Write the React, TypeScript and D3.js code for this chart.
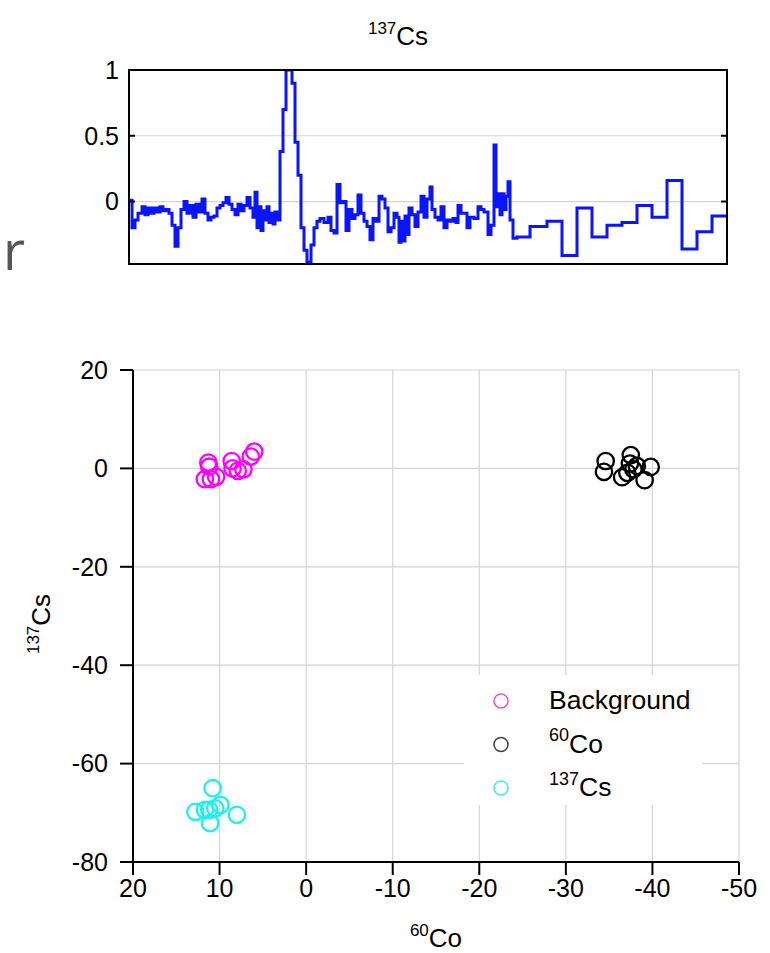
import React from "react";
import * as d3 from "d3";

// ---- Top panel: 137Cs spectrum (step histogram), bin start channel + value ----
const spectrumStart = [
  0, 3, 6, 9, 13, 16, 19, 22, 25, 28, 31, 34, 37, 40, 43, 46, 49, 52, 55, 58,
  61, 64, 67, 70, 73, 76, 79, 82, 85, 88, 91, 94, 97, 100, 103, 106, 109, 112, 115, 118,
  121, 124, 126, 128, 130, 132, 134, 136, 138, 140, 142, 144, 146, 148, 151, 154, 157, 160, 163, 166,
  169, 172, 175, 178, 182, 185, 188, 191, 195, 199, 202, 205, 208, 211, 214, 217, 220, 223, 226, 229,
  232, 235, 238, 241, 244, 247, 250, 253, 256, 259, 262, 265, 268, 270, 272, 274, 276, 278, 280, 283,
  286, 289, 292, 295, 298, 301, 303, 306, 309, 312, 315, 318, 321, 324, 327, 329, 332, 335, 338, 341,
  345, 349, 352, 355, 359, 362, 365, 367, 369, 371, 373, 375, 377, 379, 381, 384, 388, 401, 418, 433,
  448, 463, 478, 493, 508, 523, 538, 553, 568, 583,
];
const spectrumValue = [
  0.01, -0.2, -0.14, -0.09, -0.04, -0.1, -0.05, -0.09, -0.05, -0.08, -0.04, -0.07, -0.06, -0.09, -0.18, -0.34, -0.2, -0.06, 0.0, -0.09,
  -0.03, -0.12, -0.02, -0.08, 0.02, -0.09, -0.14, -0.12, -0.11, -0.05, -0.03, -0.01, 0.03, -0.02, -0.06, -0.1, -0.02, -0.07, -0.03, 0.03,
  -0.05, -0.12, 0.07, -0.2, -0.04, -0.22, -0.07, -0.14, -0.04, -0.16, -0.09, -0.17, -0.08, -0.14, 0.38, 0.7, 1.0, 1.0, 0.9, 0.45,
  0.2, -0.2, -0.37, -0.46, -0.33, -0.2, -0.15, -0.13, -0.16, -0.12, -0.22, -0.24, 0.13, -0.01, 0.0, -0.22, -0.06, -0.13, -0.1, 0.05,
  -0.09, -0.15, -0.19, -0.29, -0.13, -0.15, 0.04, 0.02, -0.05, -0.23, -0.2, -0.09, -0.12, -0.31, -0.15, -0.3, -0.11, -0.25, -0.05, -0.1,
  -0.19, -0.08, 0.04, -0.12, 0.02, 0.11, -0.06, -0.12, -0.14, -0.04, -0.2, -0.14, -0.15, -0.13, -0.16, -0.03, -0.09, -0.09, -0.2, -0.12,
  -0.13, -0.04, -0.06, -0.08, -0.25, -0.18, 0.43, -0.04, 0.06, -0.1, 0.06, -0.06, 0.04, 0.15, -0.14, -0.28, -0.27, -0.19, -0.15, -0.41,
  -0.05, -0.27, -0.18, -0.16, -0.03, -0.12, 0.16, -0.36, -0.23, -0.11,
];
const spectrumEnd = 598;
const spectrumTicks = [0, 0.5, 1];
const spectrumTickLabels = ["0", "0.5", "1"];

// ---- Bottom panel: scatter (60Co vs 137Cs) ----
const backgroundCo = [11.3, 11.2, 11.7, 11.0, 10.4, 8.6, 8.5, 7.9, 7.25, 6.4, 6.0];
const backgroundCs = [1.2, 0.35, -2.2, -2.2, -1.7, 1.5, 0.0, -0.5, -0.2, 2.4, 3.4];
const cobaltCo = [-34.6, -34.4, -36.5, -37.5, -37.4, -37.8, -37.1, -38.2, -39.8, -39.1];
const cobaltCs = [1.5, -0.7, -1.8, 2.7, 1.0, -0.2, -0.9, 0.5, 0.3, -2.4];
const cesiumCo = [10.8, 12.8, 11.7, 11.1, 10.5, 9.9, 8.0, 11.2];
const cesiumCs = [-65.0, -69.8, -69.4, -72.1, -69.1, -68.4, -70.4, -69.4];

const xTicks = [20, 10, 0, -10, -20, -30, -40, -50];
const yTicks = [20, 0, -20, -40, -60, -80];

const seriesNames = ["Background", "60Co", "137Cs"];
const seriesColors = ["#ff00ff", "#000000", "#22eeee"];
const legendColors = ["#e455d8", "#444444", "#44eedd"];

const FONT = "'Liberation Sans', Arial, Helvetica, sans-serif";

function Iso({ mass, sym, size, sup }: { mass: string; sym: string; size: number; sup: number }) {
  return (
    <>
      <tspan fontSize={sup} dy={-size * 0.42}>{mass}</tspan>
      <tspan fontSize={size} dy={size * 0.42}>{sym}</tspan>
    </>
  );
}

export default function App() {
  // top panel geometry
  const tL = 129, tR = 727, tT = 70, tB = 264;
  const sx = d3.scaleLinear().domain([0, spectrumEnd]).range([tL, tR]);
  const sy = d3.scaleLinear().domain([-0.475, 1]).range([tB, tT]);
  const pts: [number, number][] = spectrumStart.map((s, i) => [s, spectrumValue[i]]);
  pts.push([spectrumEnd, spectrumValue[spectrumValue.length - 1]]);
  const stepLine = d3
    .line<[number, number]>()
    .x((d) => sx(d[0]))
    .y((d) => sy(d[1]))
    .curve(d3.curveStepAfter)(pts) as string;

  // bottom panel geometry
  const bL = 133, bR = 739, bT = 370, bB = 862;
  const x = d3.scaleLinear().domain([20, -50]).range([bL, bR]);
  const y = d3.scaleLinear().domain([-80, 20]).range([bB, bT]);

  const series = [
    { co: backgroundCo, cs: backgroundCs },
    { co: cobaltCo, cs: cobaltCs },
    { co: cesiumCo, cs: cesiumCs },
  ];

  const grid = "#d4d4d4";
  const tickFont = 25;

  return (
    <svg
      width={770}
      height={953}
      style={{ position: "absolute", left: 0, top: 0, background: "#fff" }}
      fontFamily={FONT}
    >
      <rect x={0} y={0} width={770} height={953} fill="#fff" />
      {/* cropped stray glyph on the left edge */}
      <text x={3} y={270} fontFamily="'Open Sans', sans-serif" fontSize={54} fill="#555">r</text>

      {/* ---- top panel ---- */}
      <text x={398} y={45} textAnchor="middle" fontSize={26} fill="#000">
        <Iso mass="137" sym="Cs" size={26} sup={17} />
      </text>
      <defs>
        <clipPath id="topclip">
          <rect x={tL} y={tT} width={tR - tL} height={tB - tT} />
        </clipPath>
      </defs>
      {spectrumTicks.slice(0, 2).map((t) => (
        <line key={t} x1={tL} x2={tR} y1={sy(t)} y2={sy(t)} stroke={grid} strokeWidth={1.2} />
      ))}
      <path d={stepLine} fill="none" stroke="#0a14ff" strokeWidth={3} clipPath="url(#topclip)" />
      <rect x={tL} y={tT} width={tR - tL} height={tB - tT} fill="none" stroke="#000" strokeWidth={2} />
      {spectrumTicks.map((t, i) => (
        <g key={t}>
          <line x1={tL} x2={tL + 6} y1={sy(t)} y2={sy(t)} stroke="#000" strokeWidth={2} />
          <line x1={tR - 6} x2={tR} y1={sy(t)} y2={sy(t)} stroke="#000" strokeWidth={2} />
          <text x={tL - 10} y={sy(t)} dy="0.35em" textAnchor="end" fontSize={tickFont}>
            {spectrumTickLabels[i]}
          </text>
        </g>
      ))}

      {/* ---- bottom panel ---- */}
      {xTicks.slice(1).map((t) => (
        <line key={"gx" + t} x1={x(t)} x2={x(t)} y1={bT} y2={bB} stroke={grid} strokeWidth={1.2} />
      ))}
      {yTicks.slice(0, -1).map((t) => (
        <line key={"gy" + t} x1={bL} x2={bR} y1={y(t)} y2={y(t)} stroke={grid} strokeWidth={1.2} />
      ))}

      {/* legend background */}
      <rect x={464} y={675} width={238} height={130} fill="#fff" />

      {series.map((s, si) =>
        s.co.map((c, i) => (
          <circle
            key={si + "-" + i}
            cx={x(c)}
            cy={y(s.cs[i])}
            r={8.2}
            fill="none"
            stroke={seriesColors[si]}
            strokeWidth={2.3}
          />
        ))
      )}

      {/* axes */}
      <line x1={bL} x2={bL} y1={bT} y2={bB} stroke="#000" strokeWidth={2} />
      <line x1={bL} x2={bR} y1={bB} y2={bB} stroke="#000" strokeWidth={2} />
      {yTicks.map((t) => (
        <g key={"ty" + t}>
          <line x1={bL - 13} x2={bL} y1={y(t)} y2={y(t)} stroke="#000" strokeWidth={2} />
          <text x={bL - 25} y={y(t)} dy="0.35em" textAnchor="end" fontSize={tickFont}>
            {t}
          </text>
        </g>
      ))}
      {xTicks.map((t) => (
        <g key={"tx" + t}>
          <line x1={x(t)} x2={x(t)} y1={bB} y2={bB + 13} stroke="#000" strokeWidth={2} />
          <text x={x(t)} y={bB + 35} textAnchor="middle" fontSize={tickFont}>
            {t}
          </text>
        </g>
      ))}
      <text x={436} y={947} textAnchor="middle" fontSize={26}>
        <Iso mass="60" sym="Co" size={26} sup={17} />
      </text>
      <text transform="translate(50,624) rotate(-90)" textAnchor="middle" fontSize={26}>
        <Iso mass="137" sym="Cs" size={26} sup={17} />
      </text>

      {/* legend */}
      {seriesNames.map((n, i) => (
        <g key={n} transform={`translate(0,${701 + i * 43.5})`}>
          <circle cx={501} cy={0} r={7} fill="none" stroke={legendColors[i]} strokeWidth={1.6} />
          <text x={549} y={8} fontSize={26.5}>
            {i === 0 ? n : i === 1 ? <Iso mass="60" sym="Co" size={26.5} sup={18} /> : <Iso mass="137" sym="Cs" size={26.5} sup={18} />}
          </text>
        </g>
      ))}
    </svg>
  );
}
